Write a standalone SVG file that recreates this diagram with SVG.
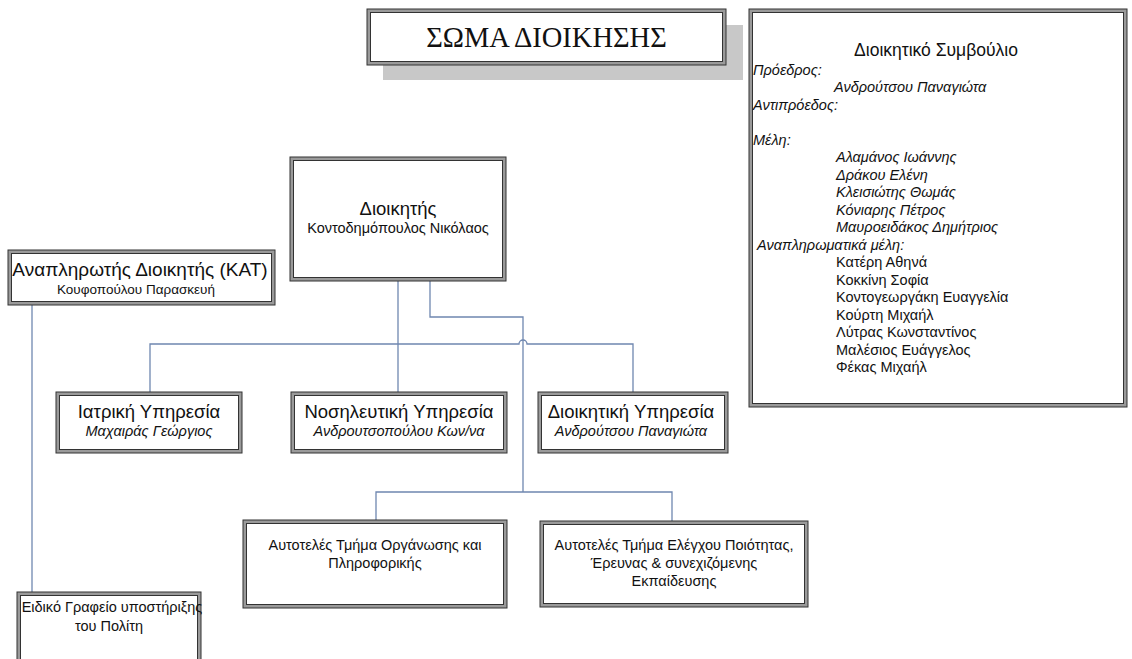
<svg xmlns="http://www.w3.org/2000/svg" width="1132" height="659" viewBox="0 0 1132 659">
  <style>
    .frame { fill: #9a9a9a; stroke: #333; stroke-width: 1; }
    .inner { fill: #ffffff; stroke: #333; stroke-width: 1; }
    .t { font-family: "Liberation Sans", Arial, sans-serif; fill: #111; }
    .c { text-anchor: middle; }
    .big { font-size: 18.5px; }
    .sm { font-size: 14.5px; }
    .it { font-style: italic; }
    .title { font-family: "Liberation Serif", "Times New Roman", serif; font-size: 28.5px; fill: #111; text-anchor: middle; }
    .wire { fill: none; stroke: #6f87b0; stroke-width: 1.3; }
  </style>

  <rect width="1132" height="659" fill="#ffffff"/>

  <!-- connectors -->
  <g id="connectors">
    <path class="wire" d="M150,392 V344 H519 a4,4 0 0 1 8,0 H633 V392"/>
    <path class="wire" d="M398,281 V392"/>
    <path class="wire" d="M430,281 V317 H523 V492"/>
    <path class="wire" d="M376,520 V492 H672 V521"/>
    <path class="wire" d="M181,392 V406"/>
    <path class="wire" d="M32,305 V592"/>
  </g>

  <!-- heading -->
  <g id="heading">
    <rect x="383" y="25" width="360" height="55" fill="#c8c8c8"/>
    <rect class="frame" x="367" y="9" width="359" height="56"/>
    <rect class="inner" x="370.5" y="12.5" width="352" height="49"/>
    <text class="title" x="546.5" y="47">ΣΩΜΑ ΔΙΟΙΚΗΣΗΣ</text>
  </g>

  <!-- board of directors -->
  <g id="board">
    <rect class="frame" x="749" y="9" width="378" height="398"/>
    <rect class="inner" x="752.5" y="12.5" width="371" height="391"/>
    <text class="t c" x="936" y="56" font-size="17.5">Διοικητικό Συμβούλιο</text>
    <g class="t sm">
      <text class="it" x="753" y="74.5">Πρόεδρος:</text>
      <text class="it" x="834" y="92">Ανδρούτσου Παναγιώτα</text>
      <text class="it" x="753" y="109.5">Αντιπρόεδος:</text>
      <text class="it" x="753" y="144.5">Μέλη:</text>
      <text class="it" x="836" y="162">Αλαμάνος Ιωάννης</text>
      <text class="it" x="836" y="179.5">Δράκου Ελένη</text>
      <text class="it" x="836" y="197">Κλεισιώτης Θωμάς</text>
      <text class="it" x="836" y="214.5">Κόνιαρης Πέτρος</text>
      <text class="it" x="836" y="232">Μαυροειδάκος Δημήτριος</text>
      <text class="it" x="757" y="249.5">Αναπληρωματικά μέλη:</text>
      <text x="836" y="267">Κατέρη Αθηνά</text>
      <text x="836" y="284.5">Κοκκίνη Σοφία</text>
      <text x="836" y="302">Κοντογεωργάκη Ευαγγελία</text>
      <text x="836" y="319.5">Κούρτη Μιχαήλ</text>
      <text x="836" y="337">Λύτρας Κωνσταντίνος</text>
      <text x="836" y="354.5">Μαλέσιος Ευάγγελος</text>
      <text x="836" y="372">Φέκας Μιχαήλ</text>
    </g>
  </g>

  <!-- director -->
  <g id="director">
    <rect class="frame" x="290" y="157" width="216" height="124"/>
    <rect class="inner" x="293.5" y="160.5" width="209" height="117"/>
    <text class="t c big" x="398" y="215">Διοικητής</text>
    <text class="t c sm" x="398" y="233">Κοντοδημόπουλος Νικόλαος</text>
  </g>

  <!-- deputy director -->
  <g id="deputy">
    <rect class="frame" x="8" y="250" width="267" height="55"/>
    <rect class="inner" x="11.5" y="253.5" width="260" height="48"/>
    <text class="t c" x="140" y="276" font-size="19">Αναπληρωτής Διοικητής (ΚΑΤ)</text>
    <text class="t c" x="136" y="294" font-size="13.5">Κουφοπούλου Παρασκευή</text>
  </g>

  <!-- medical service -->
  <g id="medical">
    <rect class="frame" x="56" y="392" width="186" height="61"/>
    <rect class="inner" x="59.5" y="395.5" width="179" height="54"/>
    <text class="t c big" x="149" y="418">Ιατρική Υπηρεσία</text>
    <text class="t c sm it" x="149" y="436">Μαχαιράς Γεώργιος</text>
  </g>

  <!-- nursing service -->
  <g id="nursing">
    <rect class="frame" x="291" y="392" width="216" height="61"/>
    <rect class="inner" x="294.5" y="395.5" width="209" height="54"/>
    <text class="t c big" x="399" y="418">Νοσηλευτική Υπηρεσία</text>
    <text class="t c sm it" x="399" y="436">Ανδρουτσοπούλου Κων/να</text>
  </g>

  <!-- administrative service -->
  <g id="administrative">
    <rect class="frame" x="538" y="392" width="190" height="61"/>
    <rect class="inner" x="541.5" y="395.5" width="183" height="54"/>
    <text class="t c big" x="631" y="418">Διοικητική Υπηρεσία</text>
    <text class="t c sm it" x="631" y="436">Ανδρούτσου Παναγιώτα</text>
  </g>

  <!-- organisation and informatics -->
  <g id="informatics">
    <rect class="frame" x="243" y="520" width="264" height="88"/>
    <rect class="inner" x="246.5" y="523.5" width="257" height="81"/>
    <text class="t c sm" x="375" y="550">Αυτοτελές Τμήμα Οργάνωσης και</text>
    <text class="t c sm" x="375" y="568">Πληροφορικής</text>
  </g>

  <!-- quality control -->
  <g id="quality">
    <rect class="frame" x="540" y="521" width="268" height="86"/>
    <rect class="inner" x="543.5" y="524.5" width="261" height="79"/>
    <text class="t c sm" x="674" y="550">Αυτοτελές Τμήμα Ελέγχου Ποιότητας,</text>
    <text class="t c sm" x="674" y="568">Έρευνας &amp; συνεχιζόμενης</text>
    <text class="t c sm" x="674" y="586">Εκπαίδευσης</text>
  </g>

  <!-- citizen support office -->
  <g id="citizen">
    <rect class="frame" x="17" y="592" width="184" height="75"/>
    <rect class="inner" x="20.5" y="595.5" width="177" height="68"/>
    <text class="t c sm" x="112" y="612">Ειδικό Γραφείο υποστήριξης</text>
    <text class="t c sm" x="109" y="631">του Πολίτη</text>
  </g>
</svg>
